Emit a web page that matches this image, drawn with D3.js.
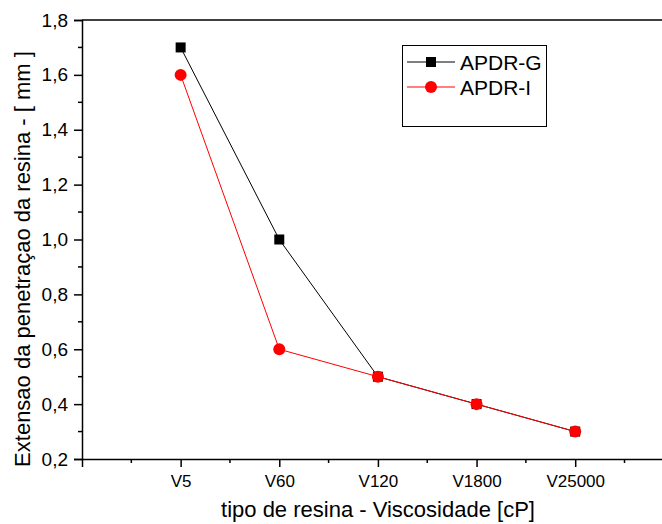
<!DOCTYPE html>
<html><head><meta charset="utf-8">
<script src="https://cdn.jsdelivr.net/npm/d3@7"></script>
<style>body{margin:0;background:#fff}svg{display:block}text{font-family:Arial,"Liberation Sans",sans-serif;fill:#000}</style>
</head><body><svg id="c" width="662" height="524"></svg>
<script>
const categories = ["V5","V60","V120","V1800","V25000"];
const apdrG = [1.7, 1.0, 0.5, 0.4, 0.3];
const apdrI = [1.6, 0.6, 0.5, 0.4, 0.3];
const yTicks = [0.2,0.4,0.6,0.8,1.0,1.2,1.4,1.6,1.8];

const svg = d3.select("#c");
const L=82, R=662, T=20, B=459;
const x = d3.scaleLinear().domain([0,5.88]).range([L,R]);
const y = d3.scaleLinear().domain([0.2,1.8]).range([B,T]);
const fmt = d => d3.format(".1f")(d).replace(".",",");
const FF = "Arial,'Liberation Sans',sans-serif";

// minor y ticks
d3.range(0.3,1.8,0.2).forEach(v=>{
  svg.append("line").attr("x1",L-4).attr("x2",L).attr("y1",y(v)).attr("y2",y(v)).attr("stroke","#000").attr("stroke-width",1.5);
});
const ya = svg.append("g").attr("transform",`translate(${L},0)`)
  .call(d3.axisLeft(y).tickValues(yTicks).tickFormat(fmt).tickSize(8).tickPadding(6));
ya.select(".domain").attr("stroke-width",1.5);
ya.selectAll(".tick line").attr("stroke-width",1.5);
ya.selectAll("text").attr("font-size",19).attr("font-family",FF);

// minor x ticks
[0.5,1.5,2.5,3.5,4.5,5.5].forEach(v=>{
  svg.append("line").attr("x1",x(v)).attr("x2",x(v)).attr("y1",B).attr("y2",B+4).attr("stroke","#000").attr("stroke-width",1.5);
});
const xa = svg.append("g").attr("transform",`translate(0,${B})`)
  .call(d3.axisBottom(x).tickValues([0,1,2,3,4,5]).tickFormat(d=>d===0?"":categories[d-1]).tickSize(8).tickPadding(8).tickSizeOuter(0));
xa.select(".domain").attr("stroke-width",1.5);
xa.selectAll(".tick line").attr("stroke-width",1.5);
xa.selectAll("text").attr("font-size",17).attr("font-family",FF);

// top frame line
svg.append("line").attr("x1",L).attr("x2",R).attr("y1",T).attr("y2",T).attr("stroke","#000").attr("stroke-width",1.5);

// axis titles
svg.append("text").attr("x",378).attr("y",517).attr("text-anchor","middle").attr("font-size",22).text("tipo de resina - Viscosidade [cP]");
svg.append("text").attr("transform","translate(30,259) rotate(-90)").attr("text-anchor","middle").attr("font-size",22).text("Extensao da penetraçao da resina - [ mm ]");

const line = d3.line().x((d,i)=>x(i+1)).y(d=>y(d));
svg.append("path").datum(apdrG).attr("d",line).attr("fill","none").attr("stroke","#000").attr("stroke-width",1);
svg.append("path").datum(apdrI).attr("d",line).attr("fill","none").attr("stroke","#ff0000").attr("stroke-width",1);
svg.selectAll(".sq").data(apdrG).enter().append("rect")
  .attr("x",(d,i)=>x(i+1)-5).attr("y",d=>y(d)-5).attr("width",10).attr("height",10).attr("fill","#000");
svg.selectAll(".ci").data(apdrI).enter().append("circle")
  .attr("cx",(d,i)=>x(i+1)).attr("cy",d=>y(d)).attr("r",6).attr("fill","#ff0000");

// legend
const lg = svg.append("g");
lg.append("rect").attr("x",402.5).attr("y",45.5).attr("width",144).attr("height",81).attr("fill","#fff").attr("stroke","#000").attr("stroke-width",1);
lg.append("line").attr("x1",407).attr("x2",455).attr("y1",62).attr("y2",62).attr("stroke","#000");
lg.append("rect").attr("x",426).attr("y",57).attr("width",10).attr("height",10).attr("fill","#000");
lg.append("text").attr("x",460).attr("y",69.5).attr("font-size",21).text("APDR-G");
lg.append("line").attr("x1",407).attr("x2",455).attr("y1",87).attr("y2",87).attr("stroke","#ff0000");
lg.append("circle").attr("cx",431).attr("cy",87).attr("r",6).attr("fill","#ff0000");
lg.append("text").attr("x",460).attr("y",94.5).attr("font-size",21).text("APDR-I");
</script></body></html>
